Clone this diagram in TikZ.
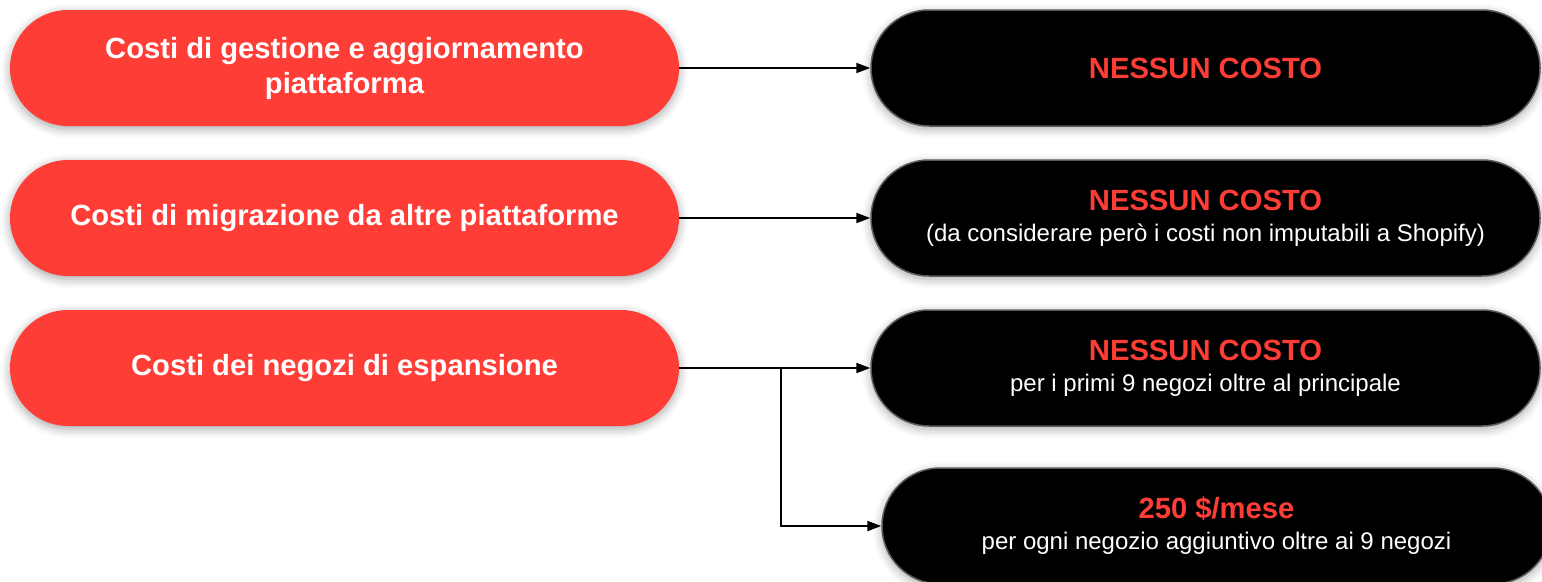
\documentclass[tikz,border=0pt]{standalone}
\usepackage{fontspec}
\setmainfont{Liberation Sans}
\usetikzlibrary{shapes.misc,arrows.meta,shadows.blur}
\definecolor{rosso}{RGB}{255,61,55}
\definecolor{bordo}{RGB}{90,90,90}
\newcommand{\titolo}{\bfseries\fontsize{29.2}{35}\selectfont}
\newcommand{\nota}{\fontsize{24}{31}\selectfont}

\begin{document}
\begin{tikzpicture}[x=1pt, y=-1pt,
  pill/.style={rounded rectangle, minimum width=669pt, minimum height=116pt,
    inner sep=0pt, align=center,
    blur shadow={shadow xshift=0pt, shadow yshift=-3pt, shadow blur radius=9pt, shadow opacity=35}},
  voce/.style={pill, fill=rosso, text=white, font=\titolo},
  costo/.style={pill, fill=black, draw=bordo, line width=1.5pt, text=white, font=\nota},
  conn/.style={line width=2pt, -{Triangle[length=14pt,width=10pt]}}]
\useasboundingbox (0,0) rectangle (1542,581);
% voci di costo a sinistra
\node[voce] (gestione) at (344.5,68) {Costi di gestione e aggiornamento\\piattaforma};
\node[voce] (migrazione) at (344.5,218) {Costi di migrazione da altre piattaforme};
\node[voce] (espansione) at (344.5,368) {Costi dei negozi di espansione};
% risposte a destra
\node[costo] (costoA) at (1205.5,68) {{\titolo\color{rosso}NESSUN COSTO}};
\node[costo] (costoB) at (1205.5,218) {{\titolo\color{rosso}NESSUN COSTO}\\(da considerare però i costi non imputabili a Shopify)};
\node[costo] (costoC) at (1205.5,368) {{\titolo\color{rosso}NESSUN COSTO}\\per i primi 9 negozi oltre al principale};
\node[costo] (costoD) at (1216.5,526) {{\titolo\color{rosso}250 \$/mese}\\per ogni negozio aggiuntivo oltre ai 9 negozi};
% frecce
\draw[conn] (gestione.east) -- (costoA.west);
\draw[conn] (migrazione.east) -- (costoB.west);
\draw[conn] (espansione.east) -- (costoC.west);
\coordinate (snodo) at (781,368);
\draw[conn] (snodo) |- (costoD.west);
\end{tikzpicture}
\end{document}
